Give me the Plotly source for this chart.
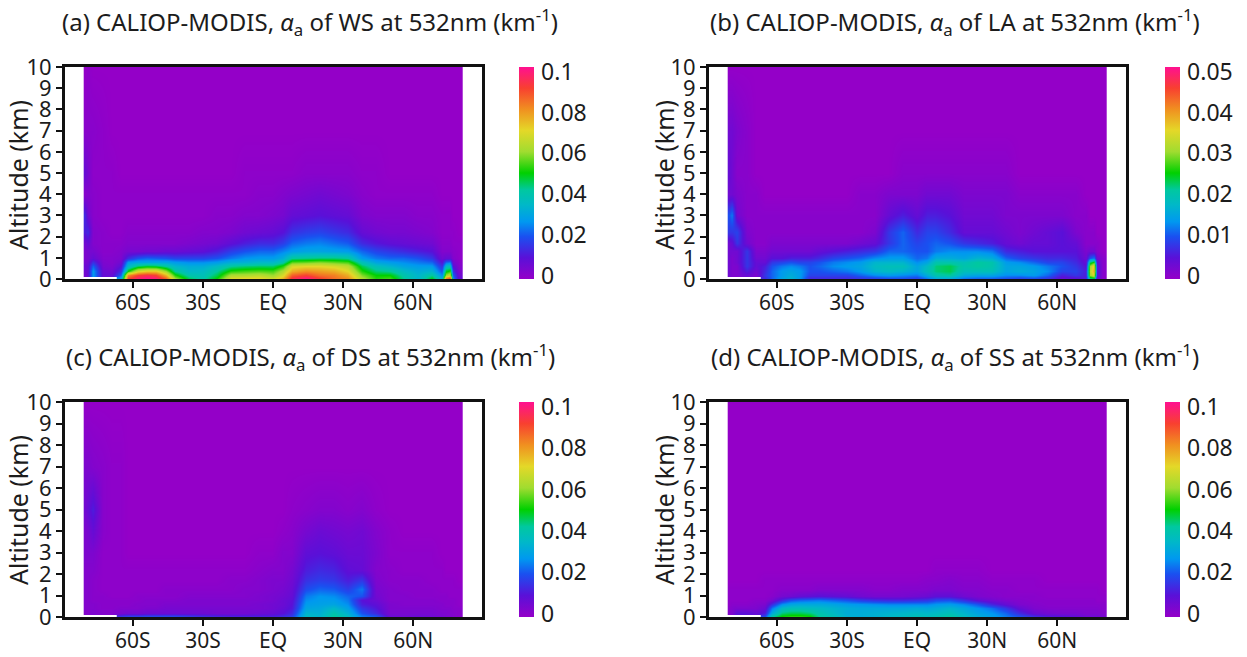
import numpy as np
import plotly.graph_objects as go

W, H = 1247, 657

# latitude of each profile (deg) and altitude of each level (km)
LATS = [-80.5,-79.5,-77,-73,-69,-65,-62,-58,-54,-50,-46,-42,-36,-30,-24,-18,-12,-6,0,4,8,14,20,26,32,38,44,50,56,62,68,72,74,75.5,77,79.5,80.5]
ALTS = [0.05,0.2,0.4,0.6,0.8,1.0,1.3,1.7,2.2,3,4,5,7,10]
X_TICKS = [-60,-30,0,30,60]
X_LABELS = ["60S","30S","EQ","30N","60N"]
Y_TICKS = list(range(0,11))

# extinction profiles, 10^-3 km^-1, one row per latitude, one value per altitude
WS = [
[None,5,6,7,5,4,4,6,12,14,2,8,2,0],
[None,8,8,8,6,5,5,8,14,6,3,5,2,1],
[None,28,28,22,15,8,5,3,3,2,2,1,2,0],
[None,8,7,5,4,3,2,2,2,1,1,1,1,0],
[None,8,6,4,3,3,2,2,1,1,1,1,0,0],
[30,22,15,10,6,4,3,2,1,1,1,0,0,0],
[88,80,50,35,28,14,5,3,2,1,1,0,0,0],
[96,90,68,45,30,20,5,3,2,1,1,0,0,0],
[99,93,72,48,30,22,6,3,2,1,1,0,0,0],
[97,90,72,47,30,21,6,3,2,1,1,0,0,0],
[85,75,60,42,30,20,7,3,2,1,1,0,0,0],
[60,52,42,35,28,18,7,3,2,1,1,0,0,0],
[45,40,35,32,26,18,8,4,2,1,1,0,0,0],
[40,38,36,32,26,18,9,5,3,1,1,0,0,0],
[50,46,42,36,28,20,12,6,3,2,1,0,0,0],
[68,62,52,42,32,24,17,9,4,2,1,0,0,0],
[70,62,54,44,33,27,20,12,6,3,1,1,0,0],
[70,64,55,45,35,28,22,14,7,3,2,1,0,0],
[66,60,54,45,35,28,22,14,8,4,2,1,0,0],
[74,68,62,52,40,32,25,17,10,5,3,1,0,0],
[92,86,76,68,55,42,28,22,15,8,4,1,0,0],
[98,90,80,70,56,43,30,24,17,9,5,2,0,0],
[90,84,78,70,58,44,30,25,18,10,6,2,0,0],
[84,82,76,68,56,44,29,23,16,9,5,2,0,0],
[80,76,70,64,54,42,28,21,14,8,4,2,0,0],
[62,58,52,46,38,28,22,14,8,4,2,1,0,0],
[52,50,44,38,30,24,18,11,6,3,1,1,0,0],
[54,50,42,34,28,22,16,9,5,3,1,0,0,0],
[42,40,36,30,26,22,14,8,5,3,1,0,0,0],
[34,34,32,28,24,20,12,7,4,2,1,0,0,0],
[48,42,34,28,22,16,10,6,3,2,1,0,0,0],
[32,26,20,15,10,6,3,2,1,1,0,0,0,0],
[80,60,48,36,22,8,3,2,1,1,0,0,0,0],
[88,66,52,38,24,8,3,2,1,1,0,0,0,0],
[25,22,16,10,6,3,2,1,1,0,0,0,0,0],
[8,6,4,3,2,1,1,1,0,0,0,0,0,0],
[8,6,4,3,2,1,1,1,0,0,0,0,0,0],
]
LA = [
[None,3,3,3,3,3,3,3,8,10,3,4,3,0],
[None,2,2,2,2,2,3,4,8,12,3,3,3,0],
[None,2,2,2,3,3,3,8,9,3,2,1,2,0],
[None,4,6,8,8,8,8,3,2,1,1,1,1,0],
[None,2,3,4,4,3,2,1,1,1,1,0,0,0],
[7,8,7,6,4,3,2,1,1,1,0,0,0,0],
[11,11,11,10,8,5,3,2,1,1,0,0,0,0],
[15,14,14,12,9,5,3,2,1,1,0,0,0,0],
[17,16,15,13,10,6,3,2,1,1,0,0,0,0],
[14,14,14,12,9,6,3,2,1,1,0,0,0,0],
[7,9,10,10,9,6,3,2,1,1,0,0,0,0],
[7,9,10,11,10,7,4,2,1,1,0,0,0,0],
[7,9,11,13,12,9,5,2,1,1,0,0,0,0],
[7,9,12,14,13,10,6,2,1,1,0,0,0,0],
[8,11,14,15,14,11,7,3,1,1,1,0,0,0],
[9,13,17,18,17,13,8,4,2,1,1,0,0,0],
[10,14,18,19,17,14,11,8,8,4,2,0,0,0],
[10,13,17,19,17,14,11,11,11,6,2,1,0,0],
[9,12,15,15,13,11,10,9,7,4,2,1,0,0],
[12,16,19,18,15,12,10,10,9,6,3,1,0,0],
[16,20,22,22,20,16,12,11,9,6,3,1,0,0],
[16,21,23,23,20,16,13,10,7,5,3,1,0,0],
[12,16,19,20,19,15,13,8,4,3,2,1,0,0],
[11,15,19,21,21,17,13,7,4,3,2,1,0,0],
[11,15,19,20,20,16,12,6,4,3,2,1,0,0],
[10,13,15,15,14,11,7,4,3,2,2,1,0,0],
[9,13,16,15,13,9,6,3,2,2,1,0,0,0],
[10,14,15,14,11,8,5,4,3,2,1,0,0,0],
[8,11,13,12,9,7,5,4,4,2,1,0,0,0],
[4,6,9,10,9,7,5,5,5,2,1,0,0,0],
[5,8,9,8,7,6,5,4,2,1,1,0,0,0],
[6,6,6,5,4,3,2,1,1,1,0,0,0,0],
[22,30,32,30,22,10,3,1,1,0,0,0,0,0],
[24,34,38,36,26,12,3,1,1,0,0,0,0,0],
[4,6,6,6,5,3,1,1,0,0,0,0,0,0],
[1,1,1,1,1,1,0,0,0,0,0,0,0,0],
[1,1,1,1,1,1,0,0,0,0,0,0,0,0],
]
DS = [
[None,3,3,3,3,3,3,3,3,4,4,6,4,0],
[None,3,3,3,3,3,3,3,3,4,5,8,4,0],
[None,4,3,3,2,2,2,2,3,4,8,12,3,0],
[None,3,2,2,2,2,1,1,1,1,2,2,2,0],
[None,3,2,2,2,1,1,1,1,1,1,1,1,0],
[15,5,3,2,2,1,1,1,1,1,1,1,1,0],
[17,6,3,2,2,1,1,1,1,0,0,0,0,0],
[17,6,3,3,2,2,1,1,1,0,0,0,0,0],
[18,7,4,3,3,2,1,1,1,0,0,0,0,0],
[18,7,4,3,3,2,1,1,1,0,0,0,0,0],
[18,7,5,4,3,2,2,1,1,0,0,0,0,0],
[18,7,5,4,3,2,2,1,1,0,0,0,0,0],
[16,7,5,4,4,3,2,1,1,0,0,0,0,0],
[14,7,5,4,4,3,2,1,1,0,0,0,0,0],
[13,6,5,4,4,3,2,1,1,0,0,0,0,0],
[12,6,5,4,4,3,2,2,1,0,0,0,0,0],
[12,6,5,4,4,3,3,2,1,0,0,0,0,0],
[12,7,5,5,4,4,3,3,2,1,0,0,0,0],
[12,8,6,6,5,5,4,4,3,1,0,0,0,0],
[14,10,8,7,7,6,5,4,3,3,1,0,0,0],
[17,14,11,10,9,8,7,6,5,3,2,1,0,0],
[36,34,30,28,26,24,19,15,12,9,5,2,0,0],
[34,33,31,29,28,27,22,17,14,10,7,3,0,0],
[42,40,35,30,28,26,21,16,13,9,6,3,0,0],
[36,33,29,26,24,22,17,12,9,7,5,2,0,0],
[24,20,16,12,10,20,24,16,8,7,6,3,0,0],
[20,14,11,9,7,6,5,4,3,4,3,1,0,0],
[7,5,4,4,3,3,3,2,2,1,1,0,0,0],
[6,5,4,3,3,3,2,2,1,1,0,0,0,0],
[7,5,4,3,3,2,2,2,1,1,0,0,0,0],
[6,5,4,3,3,2,2,1,1,1,0,0,0,0],
[5,4,3,3,2,2,1,1,1,0,0,0,0,0],
[4,4,3,2,2,2,1,1,0,0,0,0,0,0],
[4,3,3,2,2,1,1,1,0,0,0,0,0,0],
[3,3,2,2,2,1,1,1,0,0,0,0,0,0],
[2,2,2,1,1,1,1,0,0,0,0,0,0,0],
[2,2,2,1,1,1,1,0,0,0,0,0,0,0],
]
SS = [
[None,3,2,1,1,1,1,0,0,0,0,0,0,0],
[None,4,3,2,1,1,1,0,0,0,0,0,0,0],
[None,10,4,2,1,1,1,0,0,0,0,0,0,0],
[None,10,4,2,1,1,1,0,0,0,0,0,0,0],
[None,8,4,3,2,1,1,0,0,0,0,0,0,0],
[18,12,7,4,2,1,1,1,0,0,0,0,0,0],
[40,32,24,14,5,2,1,1,0,0,0,0,0,0],
[50,44,36,26,14,5,2,1,0,0,0,0,0,0],
[52,46,38,30,20,6,2,1,0,0,0,0,0,0],
[52,46,38,31,22,8,2,1,0,0,0,0,0,0],
[50,44,37,31,23,9,2,1,0,0,0,0,0,0],
[42,40,36,31,24,10,3,1,0,0,0,0,0,0],
[38,36,34,30,22,9,3,1,0,0,0,0,0,0],
[33,32,32,28,20,8,3,1,0,0,0,0,0,0],
[32,32,31,27,17,6,3,1,0,0,0,0,0,0],
[33,33,31,26,15,5,2,1,0,0,0,0,0,0],
[35,34,31,25,14,5,2,1,0,0,0,0,0,0],
[36,35,31,25,14,5,3,1,0,0,0,0,0,0],
[38,36,32,25,15,6,3,1,0,0,0,0,0,0],
[37,35,31,25,16,7,3,2,0,0,0,0,0,0],
[38,36,32,27,19,9,4,2,1,0,0,0,0,0],
[41,38,34,28,20,9,4,3,1,0,0,0,0,0],
[36,34,31,25,15,6,3,2,1,0,0,0,0,0],
[32,30,27,20,9,4,3,2,1,0,0,0,0,0],
[29,27,23,13,6,3,2,1,0,0,0,0,0,0],
[24,22,16,8,4,2,2,1,0,0,0,0,0,0],
[19,14,8,4,3,2,1,1,0,0,0,0,0,0],
[14,8,4,3,2,2,1,1,0,0,0,0,0,0],
[11,6,3,2,2,1,1,0,0,0,0,0,0,0],
[10,5,3,2,2,1,1,0,0,0,0,0,0,0],
[8,5,3,2,2,1,1,0,0,0,0,0,0,0],
[6,4,3,2,2,1,1,0,0,0,0,0,0,0],
[6,4,3,2,2,1,1,0,0,0,0,0,0,0],
[6,4,3,2,2,1,1,0,0,0,0,0,0,0],
[6,4,3,2,1,1,1,0,0,0,0,0,0,0],
[5,3,2,2,1,1,0,0,0,0,0,0,0,0],
[5,3,2,2,1,1,0,0,0,0,0,0,0,0],
]

TITLES = ["(a) CALIOP-MODIS, <i>α</i><sub>a</sub> of WS at 532nm (km<sup>-1</sup>)",
          "(b) CALIOP-MODIS, <i>α</i><sub>a</sub> of LA at 532nm (km<sup>-1</sup>)",
          "(c) CALIOP-MODIS, <i>α</i><sub>a</sub> of DS at 532nm (km<sup>-1</sup>)",
          "(d) CALIOP-MODIS, <i>α</i><sub>a</sub> of SS at 532nm (km<sup>-1</sup>)"]
CB_MAX = [0.1, 0.05, 0.1, 0.1]
CB_TICKS = [["0","0.02","0.04","0.06","0.08","0.1"],
            ["0","0.01","0.02","0.03","0.04","0.05"],
            ["0","0.02","0.04","0.06","0.08","0.1"],
            ["0","0.02","0.04","0.06","0.08","0.1"]]

COLORS = [[0,"#9400c8"],[0.1,"#5a10d8"],[0.2,"#1a50f0"],[0.27,"#0098f0"],[0.35,"#00b8c8"],
          [0.42,"#00c8a0"],[0.5,"#00d000"],[0.6,"#a0dc30"],[0.7,"#e4d828"],[0.8,"#f09020"],
          [0.9,"#f84030"],[1,"#ff1090"]]

# layout, in page pixels: frame left, right, top, bottom, title centre, colour bar left, y title x
PANELS = [(65,482,67,279,310,519,18),(709,1126,67,279,955,1165,664),
          (65,482,402,617,310,519,18),(709,1126,402,617,955,1165,664)]
FONT = "Noto Sans"
INK = "#1c1c1c"

fig = go.Figure()
layout = {}
annots = []
for i,(data,(l,r,t,b,tc,cbx,ytx)) in enumerate(zip([WS,LA,DS,SS],PANELS)):
    sfx = "" if i==0 else str(i+1)
    z = np.array(data,dtype=float).T*1e-3
    vmax = CB_MAX[i]
    tv = [vmax*(0.016+0.962*k/5) for k in range(6)]
    fig.add_trace(go.Heatmap(
        x=LATS,y=ALTS,z=z,zmin=0,zmax=vmax,zsmooth="best",colorscale=COLORS,
        xaxis="x"+sfx,yaxis="y"+sfx,hoverinfo="skip",
        colorbar=dict(x=cbx/W,xanchor="left",xpad=0,ypad=0,thickness=15,thicknessmode="pixels",
                      lenmode="fraction",len=(b-t)/H,y=1-b/H,yanchor="bottom",
                      outlinewidth=0,tickmode="array",tickvals=tv,ticktext=CB_TICKS[i],ticks="outside",
                      ticklen=3,tickcolor="rgba(0,0,0,0)",
                      tickfont=dict(family=FONT,size=23,color=INK))))
    layout["xaxis"+sfx] = dict(domain=[l/W,r/W],range=[-89.0,89.4],anchor="y"+sfx,automargin=False,
        tickmode="array",tickvals=X_TICKS,ticktext=X_LABELS,ticks="outside",ticklen=6,tickwidth=2,
        tickcolor="#111",showline=True,linewidth=3,linecolor="#111",mirror=True,showgrid=False,zeroline=False,
        ticklabelstandoff=-3,
        tickfont=dict(family=FONT,size=21,color=INK))
    layout["yaxis"+sfx] = dict(domain=[1-b/H,1-t/H],range=[0,10],anchor="x"+sfx,automargin=False,
        tickmode="array",tickvals=Y_TICKS,ticks="outside",ticklen=6,tickwidth=2,
        tickcolor="#111",showline=True,linewidth=3,linecolor="#111",mirror=True,showgrid=False,zeroline=False,
        tickfont=dict(family=FONT,size=22,color=INK))
    annots.append(dict(text=TITLES[i],xref="paper",yref="paper",x=tc/W,y=1-(t-45)/H,
        xanchor="center",yanchor="middle",showarrow=False,
        font=dict(family=FONT,size=24,color=INK)))
    annots.append(dict(text="Altitude (km)",xref="paper",yref="paper",x=ytx/W,y=1-(t+108)/H,
        xanchor="center",yanchor="middle",showarrow=False,textangle=-90,
        font=dict(family=FONT,size=25,color=INK)))

fig.update_layout(width=W,height=H,margin=dict(l=0,r=0,t=0,b=0),paper_bgcolor="white",plot_bgcolor="white",
                  annotations=annots,**layout)
fig.write_html("out.html",config={"displayModeBar":False},
               post_script="document.body.style.margin='0';document.documentElement.style.overflow='hidden';")
